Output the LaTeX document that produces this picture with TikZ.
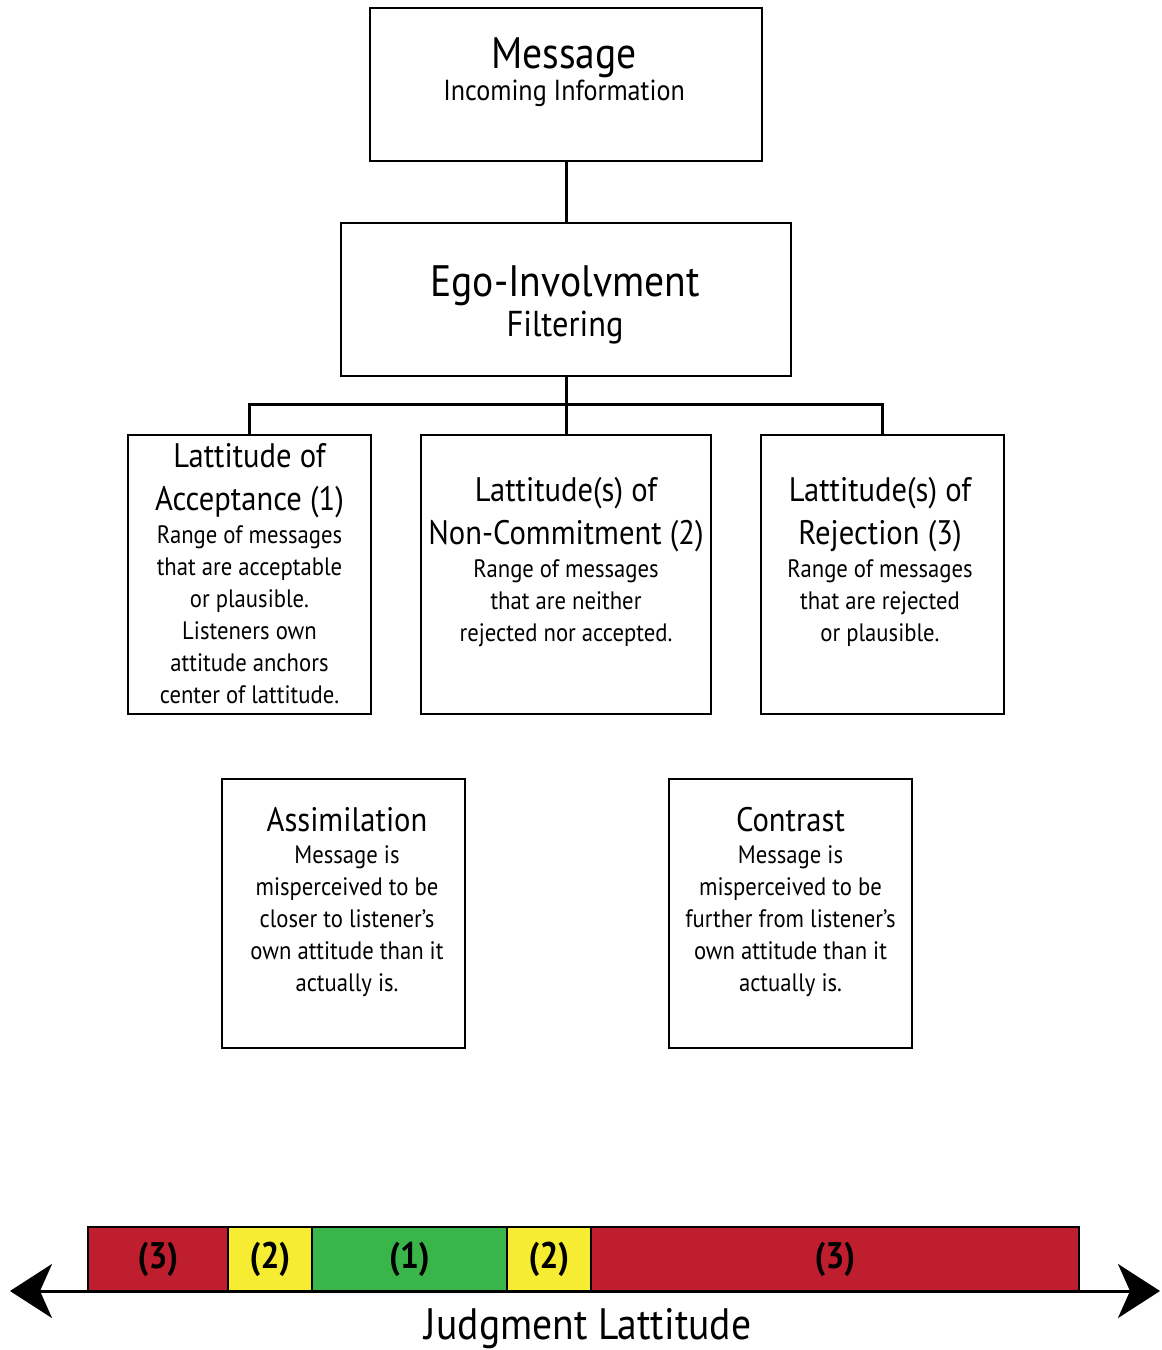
\documentclass[tikz,border=0pt]{standalone}
\usepackage{fontspec}
\setmainfont{PT Sans}[FakeStretch=0.9]
\usetikzlibrary{arrows.meta,calc}
\definecolor{rejred}{RGB}{190,30,45}
\definecolor{noncyel}{RGB}{246,236,50}
\definecolor{accgreen}{RGB}{57,181,74}
\newcommand{\corpo}{\fontsize{12.6}{16}\selectfont}
\begin{document}
\begin{tikzpicture}[x=0.5pt,y=-0.5pt, %Escala em pixels, y para baixo
	caixa/.style={draw, line width=1pt, inner sep=0pt},
	titulo/.style={text width=150pt, align=flush center, inner sep=0pt, anchor=north, font=\fontsize{17}{21.5}\selectfont},
	faixa/.style={draw, line width=1pt, minimum height=32pt, inner sep=0pt, font=\bfseries\fontsize{18.5}{20}\selectfont},
	ligacao/.style={line width=1.5pt}]
	\useasboundingbox (0,0) rectangle (1162,1350);
		%Caixas superiores
	\node[caixa, minimum width=196pt, minimum height=76.5pt] (msg) at (566,84.5) {};
	\node[titulo, font=\fontsize{22}{26}\selectfont] (msgtxt) at (564,37) {Message\\\fontsize{14.5}{16}\selectfont Incoming Information\par};
	\node[caixa, minimum width=225pt, minimum height=76.5pt] (ego) at (566,299.5) {};
	\node[titulo, font=\fontsize{22}{26}\selectfont] (egotxt) at (565,265) {Ego-Involvment\\\fontsize{18}{20}\selectfont Filtering\par};
		%Latitudes
	\node[caixa, minimum width=121.5pt, minimum height=139.5pt] (acc) at (249.5,574.5) {};
	\node[titulo] (acctxt) at (249.5,443) {Lattitude of\\Acceptance (1)\\[0.5pt]\corpo Range of messages\\that are acceptable\\or plausible.\\Listeners own\\attitude anchors\\center of lattitude.\par};
	\node[caixa, minimum width=145pt, minimum height=139.5pt] (non) at (566,574.5) {};
	\node[titulo] (nontxt) at (566,477) {Lattitude(s) of\\Non-Commitment (2)\\[0.5pt]\corpo Range of messages\\that are neither\\rejected nor accepted.\par};
	\node[caixa, minimum width=121.5pt, minimum height=139.5pt] (rej) at (882.5,574.5) {};
	\node[titulo] (rejtxt) at (880,477) {Lattitude(s) of\\Rejection (3)\\[0.5pt]\corpo Range of messages\\that are rejected\\or plausible.\par};
		%Assimilacao e contraste
	\node[caixa, minimum width=121.5pt, minimum height=134.5pt] (assim) at (343.5,913.5) {};
	\node[titulo] (assimtxt) at (347,807) {Assimilation\\\corpo Message is\\misperceived to be\\closer to listener's\\own attitude than it\\actually is.\par};
	\node[caixa, minimum width=121.5pt, minimum height=134.5pt] (contr) at (790.5,913.5) {};
	\node[titulo] (contrtxt) at (790.5,807) {Contrast\\\corpo Message is\\misperceived to be\\further from listener's\\own attitude than it\\actually is.\par};
		%Ligacoes
	\coordinate (split) at (566,404);
	\draw[ligacao] (msg) -- (ego);
	\draw[ligacao] (ego) -- (non);
	\draw[ligacao] (acc.north) |- (split) -| (rej.north);
		%Faixa de julgamento
	\node[faixa, fill=rejred, minimum width=70pt] (s1) at (158,1259) {(3)};
	\node[faixa, fill=noncyel, minimum width=42pt] (s2) at (270,1259) {(2)};
	\node[faixa, fill=accgreen, minimum width=97.5pt] (s3) at (409.5,1259) {(1)};
	\node[faixa, fill=noncyel, minimum width=42pt] (s4) at (549,1259) {(2)};
	\node[faixa, fill=rejred, minimum width=244pt] (s5) at (835,1259) {(3)};
	\coordinate (axl) at (10,1291);
	\coordinate (axr) at (1160,1291);
	\draw[{Stealth[length=21pt,width=27pt,inset=6pt]}-{Stealth[length=21pt,width=27pt,inset=6pt]}, line width=1.5pt] (axl) -- (axr);
	\node[inner sep=0pt, font=\fontsize{22}{26}\selectfont] (eixo) at (588,1329) {Judgment Lattitude};
\end{tikzpicture}
\end{document}
